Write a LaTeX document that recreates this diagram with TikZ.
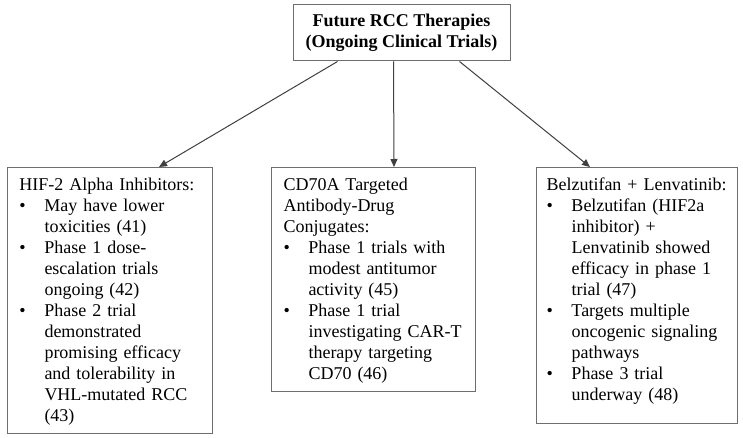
\documentclass[tikz,border=0pt]{standalone}
\usepackage{fontspec}
\setmainfont{Liberation Serif}
\usetikzlibrary{arrows.meta}

\definecolor{boxline}{HTML}{6E6E6E}
\definecolor{arrowline}{HTML}{404040}

\hyphenpenalty=10000
\newcommand{\bitem}{\makebox[25pt][l]{\textbullet}}
\newcommand{\bcont}{\hspace*{25pt}}

\begin{document}
\begin{tikzpicture}[x=1pt,y=-1pt]

      \useasboundingbox[fill=white] (0,0) rectangle (743,438);

      \begin{scope}[every node/.style={draw=boxline,line width=1pt,font=\fontsize{18}{21}\selectfont}]
        \node[align=center,font=\fontsize{18}{21}\selectfont\bfseries,
              minimum width=217pt,minimum height=56pt] (0) at (401.5,33)
          {Future RCC Therapies\\(Ongoing Clinical Trials)};
        \node[anchor=north west,align=left,inner xsep=12pt,inner ysep=0pt,
              text width=181pt,text height=23pt,text depth=243pt] (1) at (7,167)
          {HIF-2 Alpha Inhibitors:\\
           \bitem May have lower\\
           \bcont toxicities (41)\\
           \bitem Phase 1 dose-\\
           \bcont escalation trials\\
           \bcont ongoing (42)\\
           \bitem Phase 2 trial\\
           \bcont demonstrated\\
           \bcont promising efficacy\\
           \bcont and tolerability in\\
           \bcont VHL-mutated RCC\\
           \bcont (43)};
        \node[anchor=north west,align=left,inner xsep=12pt,inner ysep=0pt,
              text width=180pt,text height=23pt,text depth=201pt] (2) at (271,167)
          {CD70A Targeted\\
           Antibody-Drug\\
           Conjugates:\\
           \bitem Phase 1 trials with\\
           \bcont modest antitumor\\
           \bcont activity (45)\\
           \bitem Phase 1 trial\\
           \bcont investigating CAR-T\\
           \bcont therapy targeting\\
           \bcont CD70 (46)};
        \node[anchor=north west,align=left,inner xsep=10pt,inner ysep=0pt,
              text width=181pt,text height=23pt,text depth=233pt] (3) at (536,167)
          {Belzutifan + Lenvatinib:\\
           \bitem Belzutifan (HIF2a\\
           \bcont inhibitor) +\\
           \bcont Lenvatinib showed\\
           \bcont efficacy in phase 1\\
           \bcont trial (47)\\
           \bitem Targets multiple\\
           \bcont oncogenic signaling\\
           \bcont pathways\\
           \bitem Phase 3 trial\\
           \bcont underway (48)};
      \end{scope}

      \begin{scope}[every edge/.style={draw=arrowline,line width=1pt,
                    -{Triangle[length=8pt,width=7pt]}}]
        \path ([xshift=45pt]0.south west)  edge ([xshift=152pt]1.north west);
        \path ([xshift=101pt]0.south west) edge ([xshift=123pt]2.north west);
        \path ([xshift=167pt]0.south west) edge ([xshift=54pt]3.north west);
      \end{scope}

    \end{tikzpicture}
\end{document}
